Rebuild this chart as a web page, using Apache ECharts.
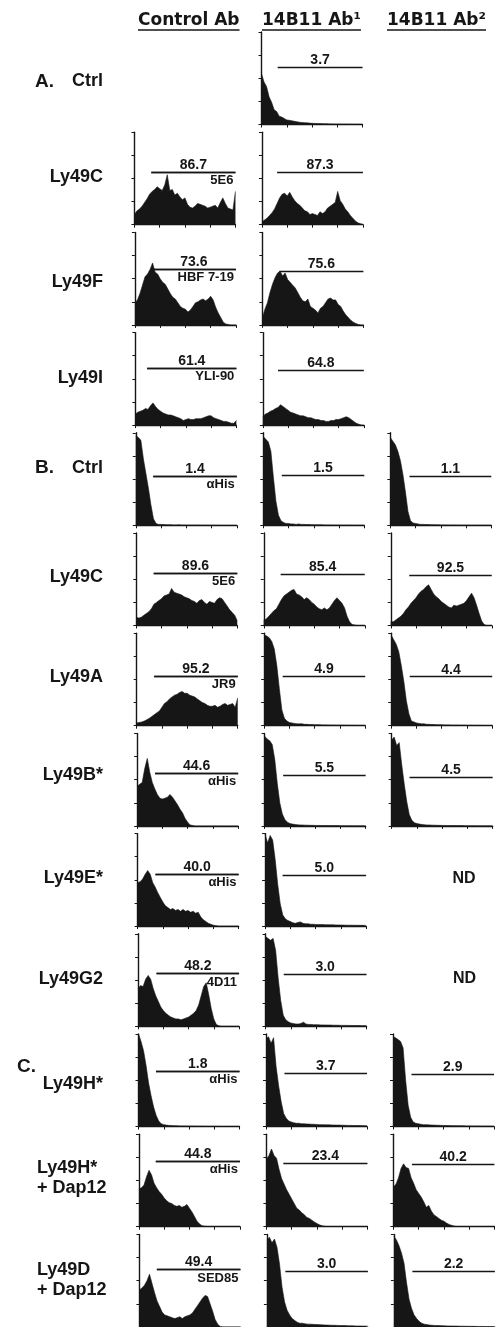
<!DOCTYPE html>
<html><head><meta charset="utf-8">
<script src="https://cdn.jsdelivr.net/npm/echarts@6/dist/echarts.min.js"></script>
<style>html,body{margin:0;padding:0;background:#fff}#c{width:496px;height:1327px}</style>
</head><body><div id="c"></div>
<script>
// ---- data ----
const bins = [0,2.5,5,7.5,10,12.5,15,17.5,20,22.5,25,27.5,30,32.5,35,37.5,40,42.5,45,47.5,50,52.5,55,57.5,60,62.5,65,67.5,70,72.5,75,77.5,80,82.5,85,87.5,90,92.5,95,97.5,100];
const colHeaders = ['Control Ab','14B11 Ab\u00b9','14B11 Ab\u00b2'];
const sectionLabels = ['A.','B.','C.'];
const rowLabels = ['Ctrl','Ly49C','Ly49F','Ly49I','Ctrl','Ly49C','Ly49A','Ly49B*','Ly49E*','Ly49G2','Ly49H*','Ly49H*\n+ Dap12','Ly49D\n+ Dap12'];

const A_Ctrl_ab1 = [55,46,41,30,24,16,14,9,8,6.5,5,4.5,4,3.5,3,2.5,2.2,2,1.8,1.5,1.3,1.2,1,1,0.9,0.8,0.7,0.6,0.6,0.5,0.5,0.5,0.4,0.4,0.4,0.3,0.3,0.3,0.3,0.2,0.2];
const A_Ly49C_ctl = [11,15,17,20,24,28,33,36,38,41,39,37,43,54,37,38,32,34,30,27,29,22,19,18,20,23,22,21,20,18,19,20,21,18,24,29,23,18,17,16,36];
const A_Ly49C_ab1 = [3,5,7,10,13,17,23,29,33,34,31,35,30,26,23,21,18,15,14,11,12,11,10,14,12,14,18,20,22,24,36,26,22,17,14,10,7,4,2,1,0];
const A_Ly49F_ctl = [24,27,34,43,52,55,60,67,57,55,50,46,44,39,34,30,28,24,20,18,17,14,16,20,24,25,27,28,26,28,31,27,19,13,8,3,1,0.5,0,0,0];
const A_Ly49F_ab1 = [8,17,24,35,44,51,56,58,53,56,49,46,43,40,35,30,26,25,28,20,18,16,13,18,20,24,28,29,27,27,22,20,15,11,8,5,3,1.5,0.5,0,0];
const A_Ly49I_ctl = [12,14,15,16,18,17,21,24,20,17,15,13,12,11,11,10,9,8,7,5,6,7,6,6,7,7,7,8,9,10,10,8,7,6,5,4,4,3,2,2,5];
const A_Ly49I_ab1 = [9,12,13,15,16,18,19,22,20,18,16,14,13,12,11,10,10,9,8,8,7,6,6,5,5,4,4,5,5,6,6,7,8,9,8,6,4,2,1,0,0];
const B_Ctrl_ctl = [97,95,92,72,56,40,22,7,2,1,1,0.8,0.6,0.5,0.5,0.4,0.4,0.5,0.3,0.3,0.3,0.2,0.2,0.2,0.2,0.2,0.1,0.1,0.1,0.1,0.1,0.1,0.1,0,0,0,0,0,0,0,0];
const B_Ctrl_ab1 = [96,93,90,80,52,26,11,5,3,2,2,1.5,1.5,1,1.5,1,1,0.8,0.8,0.6,0.6,0.5,0.5,0.5,0.4,0.4,0.4,0.3,0.3,0.3,0.3,0.2,0.2,0.2,0.2,0.2,0.1,0.1,0.1,0.1,0.1];
const B_Ctrl_ab2 = [95,91,87,80,70,55,36,15,5,2.5,2,1.5,1,1,0.8,0.8,0.6,0.6,0.5,0.5,0.4,0.4,0.4,0.3,0.3,0.3,0.3,0.2,0.2,0.2,0.2,0.2,0.1,0.1,0.1,0.1,0.1,0.1,0.1,0.1,0.1];
const B_Ly49C_ctl = [9,8,9,11,13,15,18,23,25,27,29,32,33,34,40,36,35,34,33,31,30,29,27,26,24,27,28,25,23,26,25,24,28,30,29,25,21,17,14,11,5];
const B_Ly49C_ab1 = [6,7,10,13,16,18,23,28,32,34,36,38,39,34,33,31,28,30,28,25,23,20,18,17,19,17,19,23,27,30,27,24,19,10,4,1,0.5,0,0,0,0];
const B_Ly49C_ab2 = [4,4,6,8,10,13,17,20,24,27,30,34,37,39,42,44,39,34,31,29,26,24,22,20,19,22,21,22,23,24,27,31,35,30,22,13,5,1,0,0,0];
const B_Ly49A_ctl = [3,3.5,4,5,6.5,8,10,12,14,16,20,24,26,29,31,33,34,36,37,35,35,33,32,31,29,27,25,24,22,21,21,22,20,21,23,24,22,23,24,20,30];
const B_Ly49A_ab1 = [98,97,95,91,83,65,40,17,8,5,3.5,3,2.5,2,2,2,1.5,1.5,1.2,1.2,1,1,1,0.8,0.8,0.8,0.6,0.6,0.6,0.5,0.5,0.5,0.5,0.4,0.4,0.4,0.3,0.3,0.3,0.3,0.3];
const B_Ly49A_ab2 = [98,93,88,80,65,48,27,13,5,4,3,2.5,2,2,1.5,1.5,1.2,1.2,1,1,1,0.8,0.8,0.8,0.6,0.6,0.6,0.5,0.5,0.5,0.4,0.4,0.4,0.3,0.3,0.3,0.3,0.2,0.2,0.2,0.2];
const B_Ly49B_ctl = [43,45,47,62,73,58,47,40,34,30,29,30,31,34,31,27,23,18,14,8,4,1,0.5,0,0,0,0,0,0,0,0,0,0,0,0,0,0,0,0,0,0];
const B_Ly49B_ab1 = [97,94,92,88,72,46,25,13,7,4,2.5,2,1.5,1.2,1,1,0.8,0.8,0.6,0.6,0.5,0.5,0.5,0.4,0.4,0.4,0.3,0.3,0.3,0.3,0.2,0.2,0.2,0.2,0.2,0.1,0.1,0.1,0.1,0.1,0.1];
const B_Ly49B_ab2 = [93,96,87,90,66,45,26,12,6,3.5,2.5,2,1.5,1.2,1,1,0.8,0.8,0.6,0.6,0.5,0.5,0.4,0.4,0.4,0.3,0.3,0.3,0.3,0.2,0.2,0.2,0.2,0.2,0.1,0.1,0.1,0.1,0.1,0.1,0.1];
const B_Ly49E_ctl = [47,48,51,56,60,56,47,42,36,31,26,22,20,18,19,17,18,16,18,16,17,15,16,14,15,10,7,5,3,2,1,0.5,0,0,0,0,0,0,0,0,0];
const B_Ly49E_ab1 = [99,90,98,93,72,45,24,12,8,6,5,3.5,3,4,4.5,3,2.5,2.5,2,2,1.8,1.8,1.6,1.6,1.5,1.5,1.4,1.4,1.3,1.2,1.2,1.1,1,1,1,0.9,0.9,0.8,0.8,0.8,0.8];
const B_Ly49G2_ctl = [41,44,43,51,55,51,41,33,27,21,17,14,12,10,9,8,8,7,8,9,10,12,14,17,23,33,43,47,34,19,8,2,0.5,0,0,0,0,0,0,0,0];
const B_Ly49G2_ab1 = [97,95,93,95,82,52,28,12,7,5,3.5,3,2.5,2.5,3,4.5,2.5,2,2,1.8,1.8,1.6,1.5,1.5,1.4,1.4,1.3,1.2,1.2,1.1,1,1,1,0.9,0.9,0.8,0.8,0.8,0.7,0.7,0.7];
const C_Ly49H_ctl = [100,92,82,66,47,33,21,12,6,3,2,1.5,1.2,1,0.8,0.8,0.6,0.6,0.5,0.5,0.4,0.4,0.4,0.3,0.3,0.3,0.3,0.2,0.2,0.2,0.2,0.2,0.1,0.1,0.1,0.1,0.1,0.1,0.1,0.1,0.1];
const C_Ly49H_ab1 = [95,97,90,96,65,44,27,14,9,6,5,4,3.5,3.5,3,3,2.8,2.6,2.5,2.4,2.2,2,2,1.9,1.8,1.8,1.7,1.6,1.5,1.5,1.4,1.3,1.2,1.2,1.1,1,1,1,0.9,0.9,0.8];
const C_Ly49H_ab2 = [97,96,94,92,85,50,23,10,5,3.5,3,2.5,2,2,1.8,1.6,1.5,1.4,1.3,1.2,1.1,1,1,0.9,0.9,0.8,0.8,0.7,0.7,0.6,0.6,0.6,0.5,0.5,0.5,0.4,0.4,0.4,0.4,0.3,0.3];
const C_Ly49HDap_ctl = [41,42,45,54,61,56,47,42,38,35,31,28,26,25,23,22,23,21,22,24,20,16,11,6,3,1,0.5,0,0,0,0,0,0,0,0,0,0,0,0,0,0];
const C_Ly49HDap_ab1 = [73,77,84,77,74,62,52,46,40,35,30,25,20,18,15,13,10,9,7,5,3.5,2,1,0.5,0,0,0,0,0,0,0,0,0,0,0,0,0,0,0,0,0];
const C_Ly49HDap_ab2 = [43,46,53,63,68,64,63,53,47,40,36,32,27,21,23,17,13,11,9,7,6,4,2.5,1.5,0.7,0,0,0,0,0,0,0,0,0,0,0,0,0,0,0,0];
const C_Ly49DDap_ctl = [40,42,45,50,57,47,37,28,22,16,13,12,11,10,9,10,11,9,11,12,13,15,19,23,27,31,34,33,25,17,8,3,0.5,0,0,0,0,0,0,0,0];
const C_Ly49DDap_ab1 = [94,97,91,95,86,68,43,27,18,13,9,7,5,4,4,3.5,3,3,2.8,2.6,2.5,2.4,2.2,2,2,1.9,1.8,1.7,1.6,1.5,1.5,1.4,1.3,1.2,1.2,1.1,1,1,0.9,0.9,0.8];
const C_Ly49DDap_ab2 = [98,94,88,80,69,48,30,20,13,9,6,4,3,2.5,2,1.8,1.6,1.5,1.4,1.3,1.2,1.1,1,1,0.9,0.9,0.8,0.8,0.7,0.7,0.6,0.6,0.6,0.5,0.5,0.5,0.4,0.4,0.4,0.4,0.3];

const histCtl = [null,A_Ly49C_ctl,A_Ly49F_ctl,A_Ly49I_ctl,B_Ctrl_ctl,B_Ly49C_ctl,B_Ly49A_ctl,B_Ly49B_ctl,B_Ly49E_ctl,B_Ly49G2_ctl,C_Ly49H_ctl,C_Ly49HDap_ctl,C_Ly49DDap_ctl];
const histAb1 = [A_Ctrl_ab1,A_Ly49C_ab1,A_Ly49F_ab1,A_Ly49I_ab1,B_Ctrl_ab1,B_Ly49C_ab1,B_Ly49A_ab1,B_Ly49B_ab1,B_Ly49E_ab1,B_Ly49G2_ab1,C_Ly49H_ab1,C_Ly49HDap_ab1,C_Ly49DDap_ab1];
const histAb2 = [null,null,null,null,B_Ctrl_ab2,B_Ly49C_ab2,B_Ly49A_ab2,B_Ly49B_ab2,null,null,C_Ly49H_ab2,C_Ly49HDap_ab2,C_Ly49DDap_ab2];

const pctCtl = [null,'86.7','73.6','61.4','1.4','89.6','95.2','44.6','40.0','48.2','1.8','44.8','49.4'];
const pctAb1 = ['3.7','87.3','75.6','64.8','1.5','85.4','4.9','5.5','5.0','3.0','3.7','23.4','3.0'];
const pctAb2 = [null,null,null,null,'1.1','92.5','4.4','4.5','ND','ND','2.9','40.2','2.2'];
const cloneCtl = [null,'5E6','HBF 7-19','YLI-90','\u03b1His','5E6','JR9','\u03b1His','\u03b1His','4D11','\u03b1His','\u03b1His','SED85'];

// gate start (x units) and gate level (y units) per panel
const gateStartCtl = [null,16.7,16.7,11.7,17.3,17.3,17.3,17.7,17.7,18.3,17.3,16.7,17.3];
const gateStartAb1 = [16,15,16.7,15,18.3,16.7,18.3,18.3,17.3,18,18.3,16.7,18.3];
const gateStartAb2 = [null,null,null,null,19,18.3,18.3,17.7,null,null,18.3,18.3,18.3];
const gateLevelCtl = [null,57,60,62,53,57,54,57,56,57,60,71,62];
const gateLevelAb1 = [62,57,58,59,54,55,54,55,55,56,58,69,60];
const gateLevelAb2 = [null,null,null,null,53,54,53,53,null,null,57,68,60];

// ---- layout ----
const INK = '#161616';
const colBase = [134, 261.5, 388.5];
const rowTop = r => 32 + r * 100.2;
const PW = 101, PH = 92.5;
const rowLabelY = [81,177,282,378,468,577,677,775,878,979,1084,1178.5,1280];
const sectionPos = [[35,82],[35,468],[17,1067]];

const chart = echarts.init(document.getElementById('c'), null, {renderer:'canvas'});
const grids = [], xAxes = [], yAxes = [], series = [], graphic = [];

const cols = [
  {hist: histCtl, pct: pctCtl, clone: cloneCtl, gs: gateStartCtl, gl: gateLevelCtl},
  {hist: histAb1, pct: pctAb1, clone: null, gs: gateStartAb1, gl: gateLevelAb1},
  {hist: histAb2, pct: pctAb2, clone: null, gs: gateStartAb2, gl: gateLevelAb2}
];

cols.forEach((col, c) => {
  for (let r = 0; r < 13; r++) {
    const h = col.hist[r];
    const left = colBase[c] + r * 0.45;
    if (!h) {
      if (col.pct[r]) {
        graphic.push({type:'text', silent:true, style:{text: col.pct[r], x: left + 72, y: rowTop(r) + 45,
          font: 'bold 16px "Liberation Sans"', fill: INK, align:'center', verticalAlign:'middle'}});
      }
      continue;
    }
    const k = grids.length;
    grids.push({left: left, top: rowTop(r), width: PW, height: PH, containLabel:false});
    const axisCommon = {
      min: 0, max: 100, interval: 25, type: 'value', gridIndex: k,
      axisLine: {show:true, onZero:false, lineStyle:{color: INK, width: 1.4}},
      axisTick: {show:true, inside:false, length:3, lineStyle:{color: INK, width: 1}},
      axisLabel: {show:false}, splitLine: {show:false}
    };
    xAxes.push(Object.assign({}, axisCommon));
    yAxes.push(Object.assign({}, axisCommon));
    const mlData = [[
      {coord:[col.gs[r], col.gl[r]], label:{show:true, position:'insideMiddleTop', distance:0, formatter: col.pct[r],
        color: INK, fontFamily:'Liberation Sans', fontWeight:'bold', fontSize:14}},
      {coord:[100, col.gl[r]]}
    ]];
    if (col.clone && col.clone[r]) {
      mlData.push([
        {coord:[col.gs[r], col.gl[r]], label:{show:true, position:'insideEndBottom', distance:2, formatter: col.clone[r],
          color: INK, fontFamily:'Liberation Sans', fontWeight:'bold', fontSize:13}},
        {coord:[100, col.gl[r]]}
      ]);
    }
    series.push({
      type:'line', xAxisIndex:k, yAxisIndex:k, silent:true, animation:false,
      data: bins.map((b, i) => [b, h[i]]),
      showSymbol:false, symbol:'none',
      lineStyle:{color: INK, width: 0.6},
      areaStyle:{color: INK, opacity: 1},
      markLine:{silent:true, animation:false, symbol:['none','none'],
        lineStyle:{color: INK, width: 1.4, type:'solid'}, emphasis:{disabled:true}, data: mlData}
    });
  }
});

// headers with underline
const mctx = document.createElement('canvas').getContext('2d');
const headFont = 'bold 17px "DejaVu Sans"';
mctx.font = headFont;
const headX = [138, 262, 387];
colHeaders.forEach((t, i) => {
  const w = mctx.measureText(t).width;
  graphic.push({type:'text', silent:true, style:{text:t, x: headX[i], y: 21, font: headFont, fill: INK, align:'left', verticalAlign:'middle'}});
  graphic.push({type:'line', silent:true, shape:{x1: headX[i], y1: 30, x2: headX[i] + w, y2: 30}, style:{stroke: INK, lineWidth: 1.5}});
});

// section labels
sectionLabels.forEach((t, i) => {
  graphic.push({type:'text', silent:true, style:{text:t, x: sectionPos[i][0], y: sectionPos[i][1],
    font:'bold 19px "Liberation Sans"', fill: INK, align:'left', verticalAlign:'middle'}});
});

// row labels
rowLabels.forEach((t, r) => {
  const multi = t.indexOf('\n') >= 0;
  graphic.push({type:'text', silent:true, style:{text:t, x: multi ? 37 : 103, y: rowLabelY[r],
    font:'bold 18px "Liberation Sans"', lineHeight: 20, fill: INK, align: multi ? 'left' : 'right', verticalAlign:'middle'}});
});

chart.setOption({
  animation:false, backgroundColor:'#ffffff',
  grid: grids, xAxis: xAxes, yAxis: yAxes, series: series, graphic: graphic
});
</script></body></html>
